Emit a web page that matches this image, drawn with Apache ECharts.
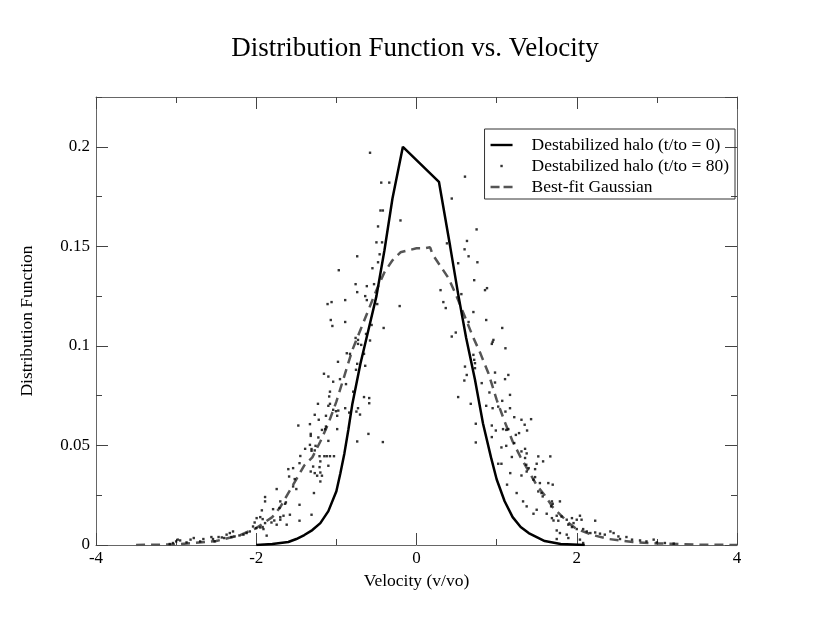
<!DOCTYPE html>
<html>
<head>
<meta charset="utf-8">
<script src="https://cdn.jsdelivr.net/npm/echarts@6/dist/echarts.min.js"></script>
<style>
  html, body { margin: 0; padding: 0; background: #fff; }
  #chart { width: 830px; height: 642px; }
</style>
</head>
<body>
<div id="chart"></div>
<script>
// initial halo, t/to = 0
const haloV0 = [-2.0, -1.8, -1.6, -1.5, -1.4, -1.3, -1.2, -1.1, -1.0, -0.95, -0.9, -0.85, -0.8, -0.7, -0.6, -0.5, -0.4, -0.3, -0.17,
  0.28, 0.42, 0.52, 0.62, 0.73, 0.83, 0.93, 1.0, 1.1, 1.2, 1.3, 1.4, 1.6, 1.8, 2.1];
const haloF0 = [0, 0.0005, 0.0015, 0.003, 0.005, 0.0075, 0.011, 0.017, 0.027, 0.036, 0.046, 0.058, 0.071, 0.091, 0.108, 0.125, 0.148, 0.174, 0.2,
  0.1824, 0.150, 0.126, 0.104, 0.083, 0.061, 0.044, 0.033, 0.022, 0.014, 0.009, 0.006, 0.002, 0.0005, 0];

// best-fit gaussian (dashed)
const gaussV = [-3.5, -3.0, -2.5, -2.2, -2.0, -1.8, -1.7, -1.6, -1.5, -1.4, -1.3, -1.2, -1.1, -1.0, -0.9, -0.8, -0.7, -0.6,
  -0.5, -0.4, -0.3, -0.2, -0.1, 0.0, 0.1, 0.17, 0.2, 0.3, 0.4, 0.5, 0.6, 0.7, 0.8, 0.9, 1.0, 1.1, 1.2, 1.3, 1.4, 1.5,
  1.6, 1.7, 1.8, 1.9, 2.0, 2.2, 2.4, 2.7, 3.0, 3.5, 4.0];
const gaussF = [0, 0.0003, 0.002, 0.005, 0.0085, 0.014, 0.019, 0.026, 0.033, 0.040, 0.044, 0.052, 0.061, 0.072, 0.085, 0.098, 0.108, 0.118,
  0.128, 0.137, 0.143, 0.147, 0.148, 0.149, 0.149, 0.1495, 0.146, 0.140, 0.134, 0.125, 0.115, 0.105, 0.096, 0.086, 0.073, 0.062, 0.052, 0.044, 0.037, 0.030,
  0.025, 0.019, 0.015, 0.011, 0.008, 0.005, 0.003, 0.0015, 0.0008, 0.0002, 0];

// destabilized halo, t/to = 80 (dots)
const halo80 = [
  [-0.58,0.197],[-0.44,0.182],[-0.34,0.182],[-0.45,0.168],[-0.42,0.168],[-0.20,0.163],[-0.48,0.160],[-0.50,0.152],
  [-0.43,0.152],[-0.46,0.146],[-0.74,0.145],[-0.48,0.142],[-0.55,0.139],[-0.97,0.138],[-0.76,0.131],[-0.62,0.130],
  [-0.53,0.131],[-0.74,0.127],[-0.64,0.125],[-0.62,0.123],[-0.89,0.123],[-1.06,0.122],[-1.11,0.121],[-0.49,0.121],
  [-0.21,0.120],[-1.07,0.113],[-1.05,0.110],[-0.89,0.112],[-0.56,0.1105],[-0.41,0.109],[-0.76,0.104],[-0.63,0.106],
  [0.605,0.185],[0.44,0.174],[0.75,0.1585],[0.63,0.1527],[0.38,0.1515],[0.60,0.1485],[0.65,0.145],[0.76,0.142],
  [0.52,0.1415],[0.72,0.133],[0.855,0.128],[0.88,0.129],[0.30,0.128],[0.56,0.126],[0.335,0.122],[0.365,0.119],
  [0.71,0.117],[0.65,0.112],[0.87,0.113],[1.07,0.109],[0.49,0.1067],[0.44,0.1047],[0.96,0.103],
  [-0.73,0.103],[-0.73,0.101],[-0.69,0.1005],[-0.58,0.1027],[-0.87,0.0963],[-0.83,0.096],[-0.655,0.096],[-0.98,0.092],
  [-0.74,0.091],[-0.64,0.090],[-0.755,0.088],[-1.155,0.086],[-1.10,0.0846],[-1.04,0.082],[-0.955,0.0833],[-0.88,0.0808],
  [-1.08,0.077],[-1.09,0.0746],[-0.79,0.077],[-0.655,0.0743],[-0.59,0.0738],[-0.59,0.0712],[-1.23,0.0709],[-1.10,0.0699],
  [-1.08,0.0709],[-1.04,0.0679],[-1.005,0.0672],[-0.976,0.0675],[-0.89,0.0687],[-0.73,0.0687],[-0.75,0.067],[-0.84,0.0665],
  [-0.705,0.0655],[-1.27,0.0654],[-1.22,0.0629],[-1.13,0.0649],[-0.99,0.0649],[-1.33,0.0607],[-1.475,0.060],[-1.13,0.0595],
  [-1.14,0.0582],[-1.18,0.0578],[-0.99,0.0582],[-1.32,0.0558],[-1.32,0.0548],[-1.225,0.054],[-1.10,0.0523],[-0.74,0.052],
  [-0.60,0.0558],[-0.42,0.0517],[-1.33,0.0503],[-1.26,0.0498],[-1.39,0.0483],[-1.31,0.0482],[-1.31,0.0473],[-1.27,0.0475],
  [-1.45,0.0447],[-1.21,0.0446],[-1.15,0.0446],[-1.12,0.0446],[-1.08,0.0446],[-1.03,0.0446],
  [0.95,0.102],[0.94,0.101],[1.11,0.0988],[0.71,0.0955],[0.72,0.093],[0.73,0.0913],[0.73,0.0888],[0.605,0.0896],
  [0.98,0.0866],[1.146,0.0854],[1.105,0.0833],[0.627,0.0854],[0.597,0.0826],[0.814,0.0813],[0.98,0.0816],[0.91,0.0766],
  [1.167,0.0754],[0.52,0.0743],[1.07,0.0724],[0.677,0.0709],[0.87,0.0699],[0.95,0.0687],[1.02,0.0695],[1.167,0.0687],
  [1.11,0.067],[1.22,0.0642],[1.31,0.0629],[1.43,0.0632],[1.35,0.0604],[0.74,0.0609],[0.94,0.060],[1.08,0.0582],
  [1.12,0.0578],[1.146,0.0582],[0.99,0.0575],[1.38,0.0575],[1.28,0.0562],[1.24,0.0553],[0.94,0.0542],[0.74,0.0515],
  [1.12,0.0498],[1.06,0.049],[1.355,0.0483],[1.19,0.0442],[1.67,0.0445],
  [-1.46,0.0411],[-1.20,0.042],[-1.60,0.0381],[-1.54,0.0386],[-1.29,0.0394],[-1.21,0.0391],[-1.10,0.0398],[-1.32,0.0369],
  [-1.27,0.0361],[-1.24,0.0348],[-1.20,0.0364],[-1.18,0.0348],[-1.20,0.0319],[-1.59,0.0344],[-1.52,0.0331],[-1.745,0.0281],
  [-1.54,0.0294],[-1.50,0.0281],[-1.28,0.0261],[-1.89,0.0241],[-1.89,0.0219],[-1.70,0.0219],[-1.64,0.0207],[-1.63,0.0214],
  [-1.46,0.0202],[-1.93,0.0174],[-1.79,0.018],[-1.71,0.0186],[-1.58,0.0152],[-1.70,0.014],[-1.66,0.0147],[-1.31,0.0152],
  [-1.995,0.0135],[-1.95,0.014],[-1.92,0.013],[-1.89,0.011],[-1.81,0.0113],[-1.745,0.0102],[-1.775,0.0123],[-1.70,0.0127],
  [-1.46,0.0122],[-1.62,0.0102],[-2.02,0.0113],[-2.04,0.0093],[-2.0,0.0085],[-1.95,0.0088],[-1.91,0.008],[-1.92,0.009],
  [-1.87,0.0047],[-2.08,0.0068],[-2.12,0.006],[-2.16,0.0052],[-2.21,0.0048],[-2.27,0.0043],[-2.29,0.0068],[-2.33,0.006],
  [-2.31,0.004],[-2.37,0.0052],[-2.40,0.0035],[-2.43,0.0038],[-2.47,0.004],[-2.54,0.003],[-2.56,0.004],[-2.52,0.0018],
  [-2.66,0.003],[-2.70,0.0018],[-2.78,0.0035],[-2.82,0.0027],[-2.87,0.0013],[-2.95,0.0023],[-3.0,0.0018],[-2.98,0.0027],
  [-3.04,0.001],[-3.08,0.0005],
  [1.22,0.0512],[1.31,0.047],[1.375,0.046],[1.355,0.0437],[1.52,0.0445],[1.58,0.042],
  [1.02,0.0408],[1.06,0.0408],[1.37,0.0403],[1.40,0.0386],[1.375,0.0369],[1.50,0.0408],[1.48,0.0381],[1.17,0.0361],
  [1.31,0.0349],[1.46,0.0328],[1.48,0.0341],[1.645,0.0311],[1.70,0.0303],[1.54,0.0311],[1.13,0.0303],[1.25,0.0261],
  [1.52,0.0269],[1.56,0.0261],[1.575,0.0244],[1.69,0.0219],[1.70,0.0207],[1.68,0.0194],[1.33,0.0219],[1.375,0.0194],
  [1.79,0.0219],[1.50,0.0177],[1.46,0.0157],[1.625,0.0157],[1.69,0.0135],[1.75,0.0147],[1.71,0.0123],[1.77,0.0122],
  [1.81,0.0143],[1.875,0.0127],[1.94,0.0135],[2.0,0.0127],[2.06,0.0127],[2.04,0.0147],[1.895,0.0102],[1.94,0.009],
  [2.0,0.008],[1.96,0.011],[1.75,0.0073],[1.79,0.006],[1.875,0.0052],[1.895,0.0035],[1.75,0.003],[2.23,0.0122],
  [2.08,0.008],[2.125,0.0068],[2.17,0.006],[2.23,0.0063],[2.29,0.0057],[2.35,0.0052],[2.42,0.0068],[2.46,0.006],
  [2.52,0.0043],[2.54,0.003],[2.62,0.004],[2.69,0.0027],[2.79,0.0023],[2.87,0.0018],[2.96,0.0027],[3.0,0.0013],
  [3.10,0.001],[3.21,0.0007],[2.04,0.0027],[2.08,0.001]
];

const xTicks = { min: -4, max: 4, step: 2 };
const yTicks = { min: 0, max: 0.225, step: 0.05, minorStep: 0.025 };

const serif = 'Liberation Serif';
const frameColor = '#666';

// legend glyphs: an invisible 22x14 box keeps every icon the same size
const iconSolid = 'path://M0,0M22,0M22,14M0,14M0,5.8h22v2.4h-22z';
const iconDot = 'path://M0,0M22,0M22,14M0,14M9.8,5.8h2.4v2.4h-2.4z';
const iconDash = 'path://M0,0M22,0M22,14M0,14M0,5.8h9v2.4h-9zM13,5.8h9v2.4h-9z';

function pairs(xs, ys) {
  return xs.map((x, i) => [x, ys[i]]);
}

function xAxisFor(pos) {
  return {
    type: 'value',
    position: pos,
    min: xTicks.min, max: xTicks.max, interval: xTicks.step,
    axisLine: { show: true, onZero: false, lineStyle: { color: frameColor, width: 1 } },
    axisTick: { show: true, inside: true, length: 12, lineStyle: { color: '#444', width: 1 } },
    minorTick: { show: true, splitNumber: 2, length: 6, lineStyle: { color: '#444', width: 1 } },
    axisLabel: { show: pos === 'bottom', color: '#000', fontFamily: serif, fontSize: 17, margin: 5 },
    splitLine: { show: false },
    name: pos === 'bottom' ? 'Velocity (v/vo)' : '',
    nameLocation: 'middle',
    nameGap: 27,
    nameTextStyle: { color: '#000', fontFamily: serif, fontSize: 17.5 }
  };
}

function yAxisFor(pos, minor) {
  return {
    type: 'value',
    position: pos,
    min: yTicks.min, max: yTicks.max,
    interval: minor ? yTicks.minorStep : yTicks.step,
    axisLine: { show: !minor, onZero: false, lineStyle: { color: frameColor, width: 1 } },
    axisTick: { show: true, inside: true, length: minor ? 6 : 12, lineStyle: { color: '#444', width: 1 } },
    axisLabel: { show: pos === 'left' && !minor, showMaxLabel: false, color: '#000', fontFamily: serif, fontSize: 17, margin: 6 },
    splitLine: { show: false },
    name: pos === 'left' && !minor ? 'Distribution Function' : '',
    nameLocation: 'middle',
    nameGap: 60,
    nameTextStyle: { color: '#000', fontFamily: serif, fontSize: 17.5 }
  };
}

let myChart = echarts.init(document.getElementById('chart'));
let option = {
  backgroundColor: '#fff',
  animation: false,
  title: {
    text: 'Distribution Function vs. Velocity',
    left: 'center',
    top: 30,
    textStyle: { color: '#000', fontFamily: serif, fontSize: 27, fontWeight: 'normal' }
  },
  legend: {
    orient: 'vertical',
    right: 95,
    top: 129,
    padding: [7, 6, 3, 6],
    itemWidth: 22,
    itemHeight: 14,
    itemGap: 3,
    borderColor: '#333',
    borderWidth: 1,
    borderRadius: 0,
    textStyle: { color: '#000', fontFamily: serif, fontSize: 17.5, padding: [0, 0, 0, 14] },
    data: [
      { name: 'Destabilized halo (t/to = 0)', icon: iconSolid },
      { name: 'Destabilized halo (t/to = 80)', icon: iconDot },
      { name: 'Best-fit Gaussian', icon: iconDash }
    ]
  },
  grid: { left: 96, right: 93, top: 97, bottom: 97, containLabel: false },
  xAxis: [xAxisFor('bottom'), xAxisFor('top')],
  yAxis: [yAxisFor('left', false), yAxisFor('left', true), yAxisFor('right', false), yAxisFor('right', true)],
  series: [
    {
      name: 'Destabilized halo (t/to = 0)',
      type: 'line',
      data: pairs(haloV0, haloF0),
      showSymbol: false,
      symbol: 'none',
      lineStyle: { color: '#000', width: 2.5 },
      itemStyle: { color: '#000' },
      z: 3
    },
    {
      name: 'Destabilized halo (t/to = 80)',
      type: 'scatter',
      data: halo80,
      symbol: 'rect',
      symbolSize: 2.4,
      itemStyle: { color: '#000' },
      z: 4
    },
    {
      name: 'Best-fit Gaussian',
      type: 'line',
      data: pairs(gaussV, gaussF),
      showSymbol: false,
      symbol: 'none',
      lineStyle: { color: '#555', width: 2.5, type: [9, 6] },
      itemStyle: { color: '#555' },
      z: 2
    }
  ]
};

myChart.setOption(option);
</script>
</body>
</html>
